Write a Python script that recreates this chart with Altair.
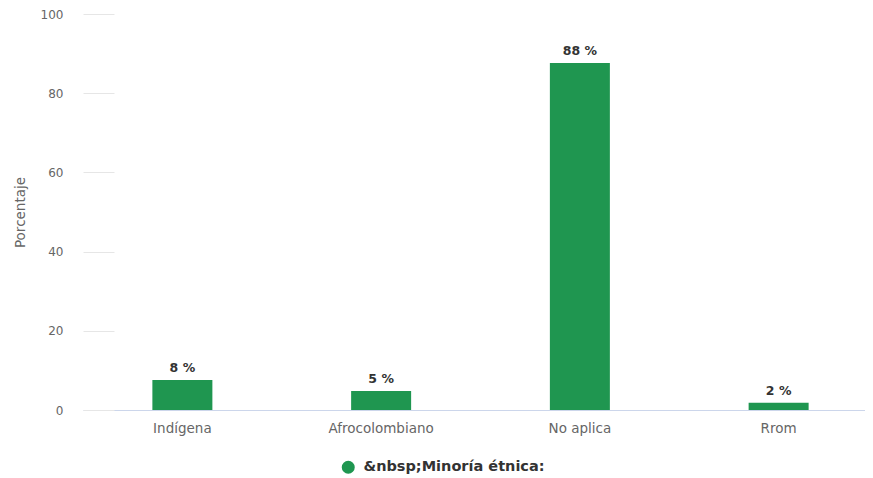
import altair as alt
import pandas as pd

categories = ["Indígena", "Afrocolombiano", "No aplica", "Rrom"]
values = [7.6, 4.8, 87.6, 1.8]
labels = ["8 %", "5 %", "88 %", "2 %"]
series_name = "&nbsp;Minoría étnica:"
y_ticks = [0, 20, 40, 60, 80, 100]

df = pd.DataFrame({"cat": categories, "val": values, "lab": labels, "serie": [series_name] * 4})

FONT = "DejaVu Sans"
GREEN = "#1f9650"

x = alt.X("cat:N", sort=categories, title=None,
          scale=alt.Scale(range=[0, 795], paddingInner=0.7, paddingOuter=0.35),
          axis=alt.Axis(labelAngle=0, labelColor="#666666", labelFontSize=13.5, labelFont=FONT,
                        domainColor="#ccd6eb", ticks=False, labelPadding=11))
y = alt.Y("val:Q", title="Porcentaje",
          scale=alt.Scale(domain=[0, 100], nice=False),
          axis=alt.Axis(values=y_ticks, grid=False, domain=False, offset=-31, tickSize=31,
                        tickColor="#e6e6e6", labelColor="#666666", labelFontSize=12, labelFont=FONT,
                        labelPadding=20, titleColor="#666666", titleFontSize=13.5, titleFont=FONT,
                        titleFontWeight="normal", titlePadding=13))

bars = alt.Chart(df).mark_bar(size=60).encode(
    x=x, y=y,
    color=alt.Color("serie:N", scale=alt.Scale(domain=[series_name], range=[GREEN]),
                    legend=alt.Legend(title=None, orient="none", legendX=258, legendY=446,
                                      symbolType="circle", symbolSize=170, symbolStrokeWidth=0,
                                      labelOffset=8,
                                      labelFont=FONT, labelFontSize=14.5, labelFontWeight="bold",
                                      labelColor="#333333", labelLimit=400)),
)

text = alt.Chart(df).mark_text(baseline="bottom", dy=-5, fontWeight="bold", fontSize=12.5,
                               font=FONT, color="#333333").encode(
    x=alt.X("cat:N", sort=categories), y="val:Q", text="lab:N")

chart = (bars + text).properties(
    width=782, height=396,
    autosize=alt.AutoSizeParams(type="none"),
    padding={"left": 75, "top": 6, "right": 0, "bottom": 66},
).configure(background="white").configure_view(stroke=None)

chart.save("out.html", embed_options={"renderer": "svg", "actions": False})
